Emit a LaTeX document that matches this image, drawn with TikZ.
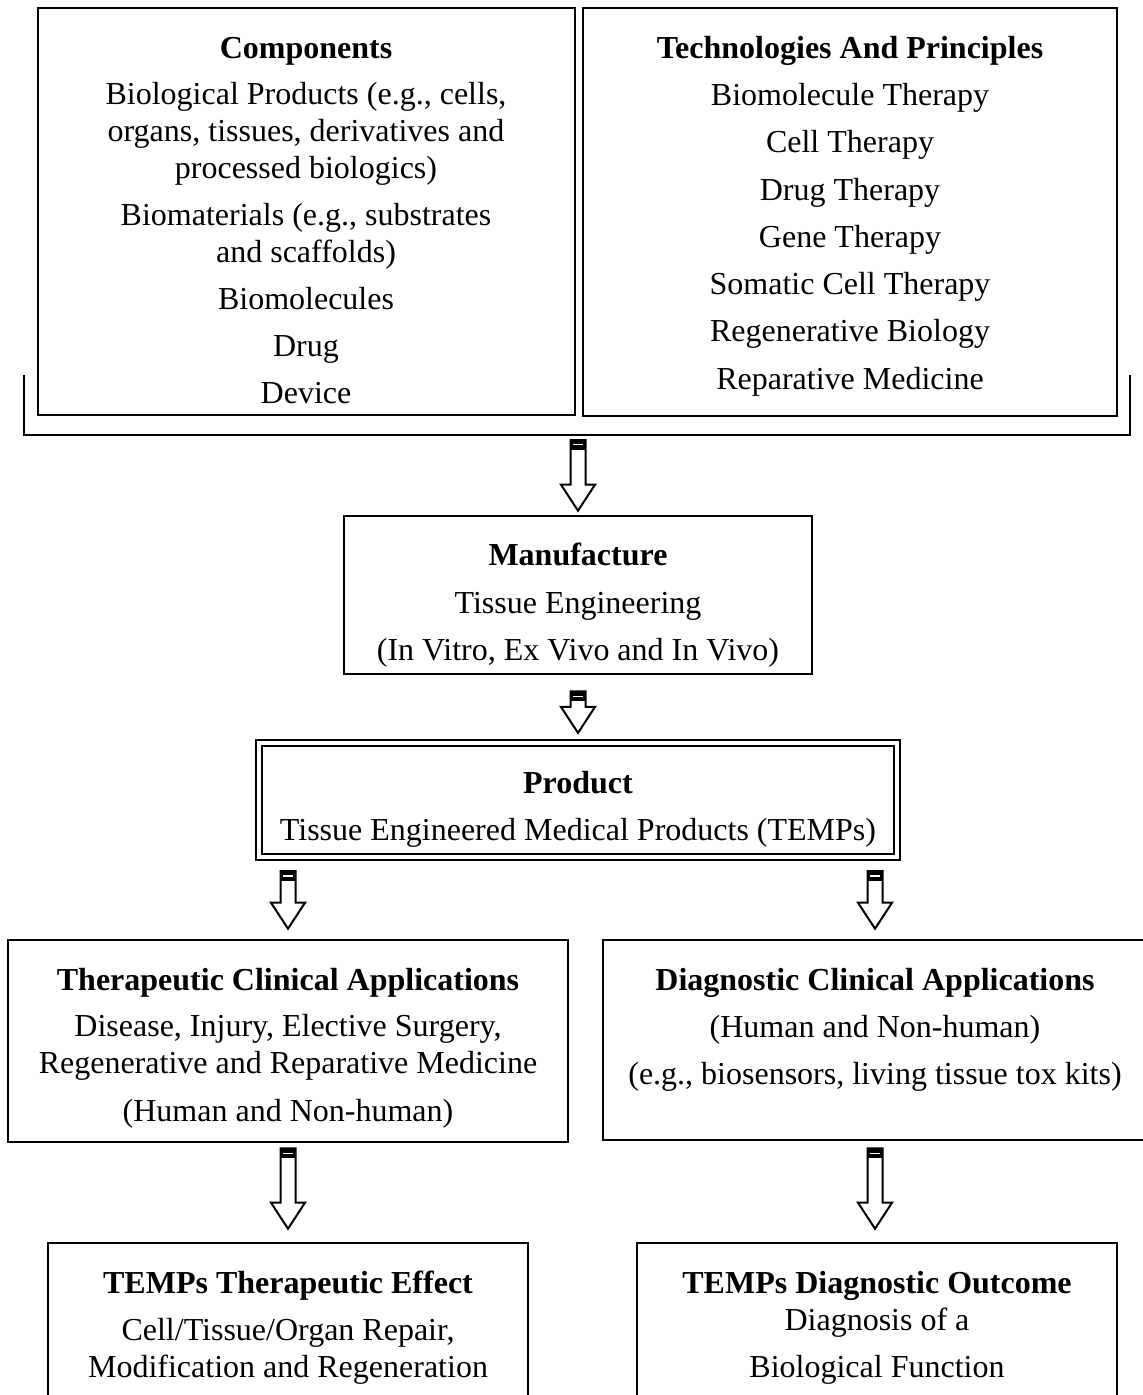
\documentclass[tikz,border=0pt]{standalone}
\usepackage{fontspec}
\setmainfont{Liberation Serif}
\usepackage{tikz}
\usetikzlibrary{fit,calc}

% hollow down arrow with a black cap: #1 = top point, #2 = tip point
\newcommand{\temparrow}[2]{%
  \draw[tarrow] let \p1=(#1), \p2=(#2) in
    (\x1-3.75pt,\y1) -- (\x1-3.75pt,\y2+13pt) -- (\x1-8.5pt,\y2+13pt) -- (\x1,\y2)
    -- (\x1+8.5pt,\y2+13pt) -- (\x1+3.75pt,\y2+13pt) -- (\x1+3.75pt,\y1) -- cycle;
  \fill let \p1=(#1) in (\x1-3.75pt,\y1) rectangle (\x1+3.75pt,\y1-5pt);
  \draw[white,line width=0.6pt] let \p1=(#1) in (\x1-2.6pt,\y1-2.4pt) -- (\x1+2.6pt,\y1-2.4pt);
}

\begin{document}
\begin{tikzpicture}[x=0.5pt,y=-0.5pt]
        \tikzstyle{box}=[draw,line width=1.3pt,inner sep=0pt]
        \tikzstyle{tarrow}=[draw,line width=1pt,fill=white,line join=miter]
        \tikzstyle{txt}=[anchor=base,inner sep=0pt,font=\fontsize{16}{19}\selectfont]
        \tikzstyle{ttl}=[txt,font=\fontsize{16}{19}\selectfont\bfseries]

        \useasboundingbox (0,0) rectangle (1142,1395);

        %% Top boxes
        \node [box,fit={(38,8) (575,415)}] (comp) {};
        \node [ttl] (comp0) at (306,59) {Components};
        \node [txt] (comp1) at (306,105) {Biological Products (e.g., cells,};
        \node [txt] (comp2) at (306,142) {organs, tissues, derivatives and};
        \node [txt] (comp3) at (306,179) {processed biologics)};
        \node [txt] (comp4) at (306,226) {Biomaterials (e.g., substrates};
        \node [txt] (comp5) at (306,263) {and scaffolds)};
        \node [txt] (comp6) at (306,310) {Biomolecules};
        \node [txt] (comp7) at (306,357) {Drug};
        \node [txt] (comp8) at (306,404) {Device};

        \node [box,fit={(583,8) (1117,416)}] (tech) {};
        \node [ttl] (tech0) at (850,59) {Technologies And Principles};
        \node [txt] (tech1) at (850,106) {Biomolecule Therapy};
        \node [txt] (tech2) at (850,153) {Cell Therapy};
        \node [txt] (tech3) at (850,201) {Drug Therapy};
        \node [txt] (tech4) at (850,248) {Gene Therapy};
        \node [txt] (tech5) at (850,295) {Somatic Cell Therapy};
        \node [txt] (tech6) at (850,342) {Regenerative Biology};
        \node [txt] (tech7) at (850,390) {Reparative Medicine};

        % bracket under both boxes
        \draw [line width=1.3pt] (24,375) |- (1130,435) -- (1130,375);
        \coordinate (brk) at (578,435);

        %% Manufacture and product
        \node [box,fit={(344,516) (812,674)}] (manu) {};
        \node [ttl] (manu0) at (578,565) {Manufacture};
        \node [txt] (manu1) at (578,613) {Tissue Engineering};
        \node [txt] (manu2) at (578,660) {(In Vitro, Ex Vivo and In Vivo)};

        \node [box,double,double distance=2pt,line width=1.1pt,fit={(259,743) (897,857)}] (prod) {};
        \node [ttl] (prod0) at (578,793) {Product};
        \node [txt] (prod1) at (578,840) {Tissue Engineered Medical Products (TEMPs)};

        %% Applications
        \node [box,fit={(8,940) (568,1142)}] (ther) {};
        \node [ttl] (ther0) at (288,990) {Therapeutic Clinical Applications};
        \node [txt] (ther1) at (288,1036) {Disease, Injury, Elective Surgery,};
        \node [txt] (ther2) at (288,1073) {Regenerative and Reparative Medicine};
        \node [txt] (ther3) at (288,1121) {(Human and Non-human)};

        \node [box,fit={(603,940) (1147,1140)}] (diag) {};
        \node [ttl] (diag0) at (875,990) {Diagnostic Clinical Applications};
        \node [txt] (diag1) at (875,1037) {(Human and Non-human)};
        \node [txt] (diag2) at (875,1084) {(e.g., biosensors, living tissue tox kits)};

        %% Outcomes
        \node [box,fit={(48,1243) (528,1400)}] (eff) {};
        \node [ttl] (eff0) at (288,1293) {TEMPs Therapeutic Effect};
        \node [txt] (eff1) at (288,1340) {Cell/Tissue/Organ Repair,};
        \node [txt] (eff2) at (288,1377) {Modification and Regeneration};

        \node [box,fit={(637,1243) (1117,1400)}] (outc) {};
        \node [ttl] (outc0) at (877,1293) {TEMPs Diagnostic Outcome};
        \node [txt] (outc1) at (877,1330) {Diagnosis of a};
        \node [txt] (outc2) at (877,1377) {Biological Function};

        %% Arrows
        \temparrow{$(brk)+(0,5)$}{$(manu.north)+(0,-4)$}
        \temparrow{$(manu.south)+(0,16)$}{$(prod.north)+(0,-9)$}
        \temparrow{$(prod.south -| ther.north)+(0,13)$}{$(ther.north)+(0,-10)$}
        \temparrow{$(prod.south -| diag.north)+(0,13)$}{$(diag.north)+(0,-10)$}
        \temparrow{$(ther.south)+(0,5)$}{$(eff.north)+(0,-13)$}
        \temparrow{$(diag.south)+(0,7)$}{$(outc.north -| diag.south)+(0,-13)$}
    \end{tikzpicture}
\end{document}
